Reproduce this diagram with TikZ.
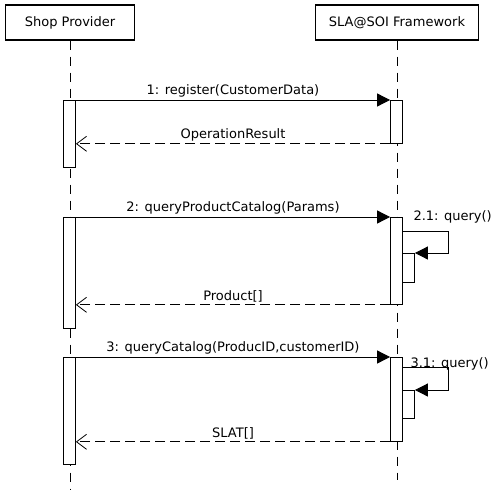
\documentclass[tikz,border=0pt]{standalone}
\usepackage{fontspec}
\setmainfont{DejaVu Sans}
\usepackage{tikz}
\usetikzlibrary{arrows.meta,positioning}
\newcommand{\umlfont}{\fontsize{13}{15}\selectfont}

\tikzset{
  head/.style={draw,line width=1.2pt,minimum height=35pt,inner sep=0pt},
  life/.style={line width=0.8pt,dash pattern=on 9pt off 7pt},
  actbar/.style={draw,fill=white,line width=0.8pt,minimum width=12pt,inner sep=0pt,anchor=north},
  call/.style={line width=0.8pt,-{Triangle[length=13pt,width=13pt]}},
  reply/.style={line width=0.8pt,dash pattern=on 10pt off 5pt,-{Straight Barb[length=10pt,width=15pt,line width=0.8pt]}},
  msglbl/.style={above,inner sep=2pt},
  selflbl/.style={anchor=south west,inner sep=0pt}
}

\begin{document}
\begin{tikzpicture}[x=1pt,y=-1pt,font=\umlfont]
    \useasboundingbox (0,0) rectangle (494,489);

    % lifelines
    \node at (70,22.5) [head,minimum width=129pt] (shop) {Shop Provider};
    \node at (397,22.5) [head,minimum width=163pt] (sla) {SLA@SOI Framework};
    \coordinate (shopend) at (70,489);
    \coordinate (slaend) at (397,480);
    \draw[life] (shop.south) -- (shopend);
    \draw[life] (sla.south) -- (slaend);

    % activation bars
    \node at (69.5,100) [actbar,minimum height=67pt] (sb1) {};
    \node at (396.5,100) [actbar,minimum height=43pt] (fb1) {};
    \node at (69.5,217) [actbar,minimum height=111pt] (sb2) {};
    \node at (396.5,217) [actbar,minimum height=87pt] (fb2) {};
    \node at (408.5,253) [actbar,minimum height=29pt] (fn2) {};
    \node at (69.5,357) [actbar,minimum height=107pt] (sb3) {};
    \node at (396.5,357) [actbar,minimum height=84pt] (fb3) {};
    \node at (408.5,390) [actbar,minimum height=28pt] (fn3) {};

    % 1
    \draw[call] (sb1.north east) -- node[msglbl] {1: register(CustomerData)} (fb1.north west);
    \draw[reply] (fb1.south west) -- node[msglbl] {OperationResult} (sb1.east |- fb1.south west);

    % 2
    \draw[call] (sb2.north east) -- node[msglbl] {2: queryProductCatalog(Params)} (fb2.north west);
    \draw[call] ([yshift=22pt]fn2.north west) node[selflbl,xshift=11pt,yshift=7pt] {2.1: query()}
      -- ++(46,0) |- (fn2.north east);
    \draw[reply] (fb2.south west) -- node[msglbl] {Product[]} (sb2.east |- fb2.south west);

    % 3
    \draw[call] (sb3.north east) -- node[msglbl] {3: queryCatalog(ProducID,customerID)} (fb3.north west);
    \draw[call] ([yshift=23pt]fn3.north west) node[selflbl,xshift=8pt,yshift=-4pt] {3.1: query()}
      -- ++(46,0) |- (fn3.north east);
    \draw[reply] (fb3.south west) -- node[msglbl] {SLAT[]} (sb3.east |- fb3.south west);
\end{tikzpicture}
\end{document}
